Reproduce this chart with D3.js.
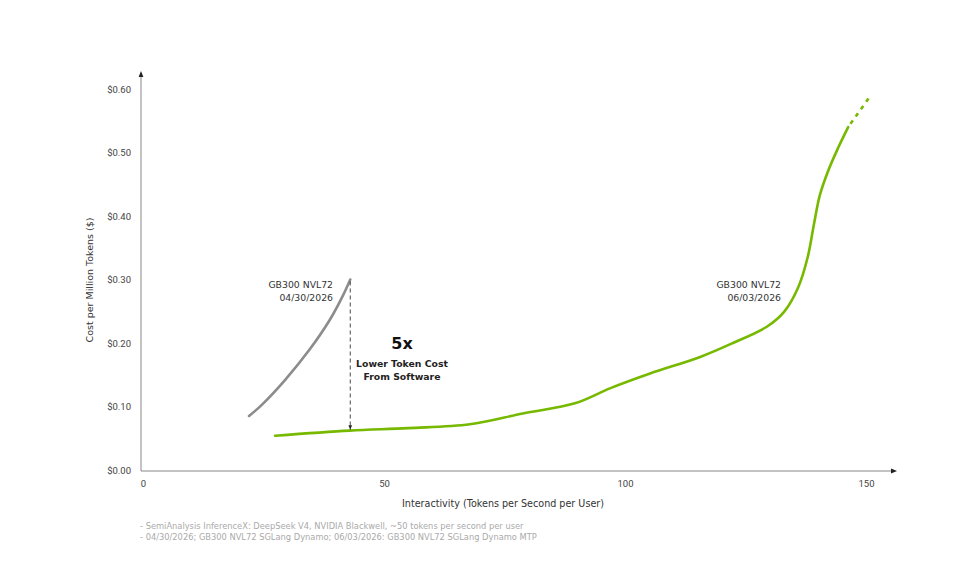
<!DOCTYPE html>
<html>
<head>
<meta charset="utf-8">
<script src="https://cdn.jsdelivr.net/npm/d3@7"></script>
<style>
  body { margin: 0; background: #fff; }
  svg { display: block; font-family: "DejaVu Sans", sans-serif; }
</style>
</head>
<body>
<svg id="chart" width="979" height="570"></svg>
<script>
// ---- data ----
var yTicks = [0, 0.1, 0.2, 0.3, 0.4, 0.5, 0.6];
var xTicks = [0, 50, 100, 150];

var oldX = [22, 24.7, 29.5, 34.6, 38.8, 41.5, 43];
var oldY = [0.085, 0.103, 0.142, 0.19, 0.237, 0.275, 0.30];

var newX = [27.4, 42.9, 55, 67.8, 78.8, 89.6, 97, 105.2, 115.6, 122.4, 129.5, 133, 135.9, 137.9, 139.2, 140.4, 142.2, 144.2, 146.3];
var newY = [0.054, 0.062, 0.066, 0.072, 0.089, 0.105, 0.129, 0.152, 0.178, 0.2, 0.226, 0.249, 0.287, 0.335, 0.387, 0.432, 0.472, 0.507, 0.54];

var extX = [146.3, 151];
var extY = [0.54, 0.59];

var footnotes = [
    "-  SemiAnalysis InferenceX: DeepSeek V4, NVIDIA Blackwell, ~50 tokens per second per user",
    "-  04/30/2026; GB300 NVL72 SGLang Dynamo; 06/03/2026: GB300 NVL72 SGLang Dynamo MTP"
];

var green = "#76b900";
var grey = "#8c8c8c";

var svg = d3.select("#chart");

var x = d3.scaleLinear().domain([0, 150]).range([143, 866]);
var y = d3.scaleLinear().domain([0, 0.6]).range([470, 89]);

var zip = function(xs, ys) {
    return xs.map(function(d, i) { return [d, ys[i]]; });
};

var defs = svg.append("defs");
defs.append("marker")
    .attr("id", "axisArrow")
    .attr("viewBox", "0 0 10 10")
    .attr("refX", 5).attr("refY", 5)
    .attr("markerWidth", 6).attr("markerHeight", 6)
    .attr("orient", "auto")
    .append("path")
    .attr("d", "M0,1 L10,5 L0,9 Z")
    .attr("fill", "#222");

// ---- axes ----
var yAxis = d3.axisLeft(y)
    .tickValues(yTicks)
    .tickSize(0)
    .tickPadding(10)
    .tickFormat(d3.format("$.2f"));

var xAxis = d3.axisBottom(x)
    .tickValues(xTicks)
    .tickSize(0)
    .tickPadding(9)
    .tickFormat(d3.format("d"));

var gy = svg.append("g").attr("transform", "translate(141,0)").call(yAxis);
var gx = svg.append("g").attr("transform", "translate(0,471)").call(xAxis);

[gy, gx].forEach(function(g) {
    g.select(".domain").remove();
    g.selectAll("text")
        .attr("fill", "#444")
        .attr("font-family", "Roboto, sans-serif")
        .attr("font-size", "9.5px");
});

svg.append("line")
    .attr("x1", 141).attr("y1", 471)
    .attr("x2", 141).attr("y2", 74)
    .attr("stroke", "#888").attr("stroke-width", 1)
    .attr("marker-end", "url(#axisArrow)");

svg.append("line")
    .attr("x1", 141).attr("y1", 471)
    .attr("x2", 894).attr("y2", 471)
    .attr("stroke", "#888").attr("stroke-width", 1)
    .attr("marker-end", "url(#axisArrow)");

svg.append("text")
    .attr("transform", "translate(93,280) rotate(-90)")
    .attr("text-anchor", "middle")
    .attr("font-size", "9.5px")
    .attr("fill", "#333")
    .text("Cost per Million Tokens ($)");

svg.append("text")
    .attr("x", 503).attr("y", 507)
    .attr("text-anchor", "middle")
    .attr("font-size", "9.6px")
    .attr("fill", "#333")
    .text("Interactivity (Tokens per Second per User)");

// ---- curves ----
var line = d3.line()
    .x(function(d) { return x(d[0]); })
    .y(function(d) { return y(d[1]); })
    .curve(d3.curveCatmullRom.alpha(0.5));

svg.append("path")
    .datum(zip(oldX, oldY))
    .attr("d", line)
    .attr("fill", "none")
    .attr("stroke", grey)
    .attr("stroke-width", 2.6)
    .attr("stroke-linecap", "round");

svg.append("path")
    .datum(zip(newX, newY))
    .attr("d", line)
    .attr("fill", "none")
    .attr("stroke", green)
    .attr("stroke-width", 2.6)
    .attr("stroke-linecap", "round");

svg.append("path")
    .datum(zip(extX, extY))
    .attr("d", d3.line().x(function(d) { return x(d[0]); }).y(function(d) { return y(d[1]); }))
    .attr("fill", "none")
    .attr("stroke", green)
    .attr("stroke-width", 2.6)
    .attr("stroke-dasharray", "4,5")
    .attr("stroke-dashoffset", -4);

// ---- 5x annotation ----
var gapX = oldX[oldX.length - 1];
defs.append("marker")
    .attr("id", "gapArrow")
    .attr("viewBox", "0 0 10 10")
    .attr("refX", 10).attr("refY", 5)
    .attr("markerWidth", 5).attr("markerHeight", 5)
    .attr("orient", "auto")
    .append("path")
    .attr("d", "M0,1 L10,5 L0,9 Z")
    .attr("fill", "#222");

svg.append("line")
    .attr("x1", x(gapX)).attr("y1", y(0.30) + 2)
    .attr("x2", x(gapX)).attr("y2", y(0.062) - 1)
    .attr("stroke", "#333")
    .attr("stroke-width", 0.9)
    .attr("stroke-dasharray", "4,3")
    .attr("marker-end", "url(#gapArrow)");

svg.append("text")
    .attr("x", 402).attr("y", 349)
    .attr("text-anchor", "middle")
    .attr("font-size", "16px")
    .attr("font-weight", "bold")
    .attr("fill", "#111")
    .text("5x");

svg.append("text")
    .attr("text-anchor", "middle")
    .attr("font-size", "9.3px")
    .attr("font-weight", "bold")
    .attr("fill", "#222")
    .selectAll("tspan")
    .data(["Lower Token Cost", "From Software"])
    .enter().append("tspan")
    .attr("x", 402)
    .attr("y", function(d, i) { return 367 + i * 13; })
    .text(function(d) { return d; });

// ---- series labels ----
var seriesLabels = [
    { x: 333, lines: ["GB300 NVL72", "04/30/2026"] },
    { x: 781, lines: ["GB300 NVL72", "06/03/2026"] }
];

seriesLabels.forEach(function(s) {
    svg.append("text")
        .attr("text-anchor", "end")
        .attr("font-size", "9.3px")
        .attr("fill", "#333")
        .selectAll("tspan")
        .data(s.lines)
        .enter().append("tspan")
        .attr("x", s.x)
        .attr("y", function(d, i) { return 288 + i * 12.5; })
        .text(function(d) { return d; });
});

// ---- footnotes ----
svg.append("g")
    .selectAll("text")
    .data(footnotes)
    .enter().append("text")
    .attr("x", 140)
    .attr("y", function(d, i) { return 529 + i * 11; })
    .attr("font-size", "8.3px")
    .attr("fill", "#aaa")
    .text(function(d) { return d; });
</script>
</body>
</html>
